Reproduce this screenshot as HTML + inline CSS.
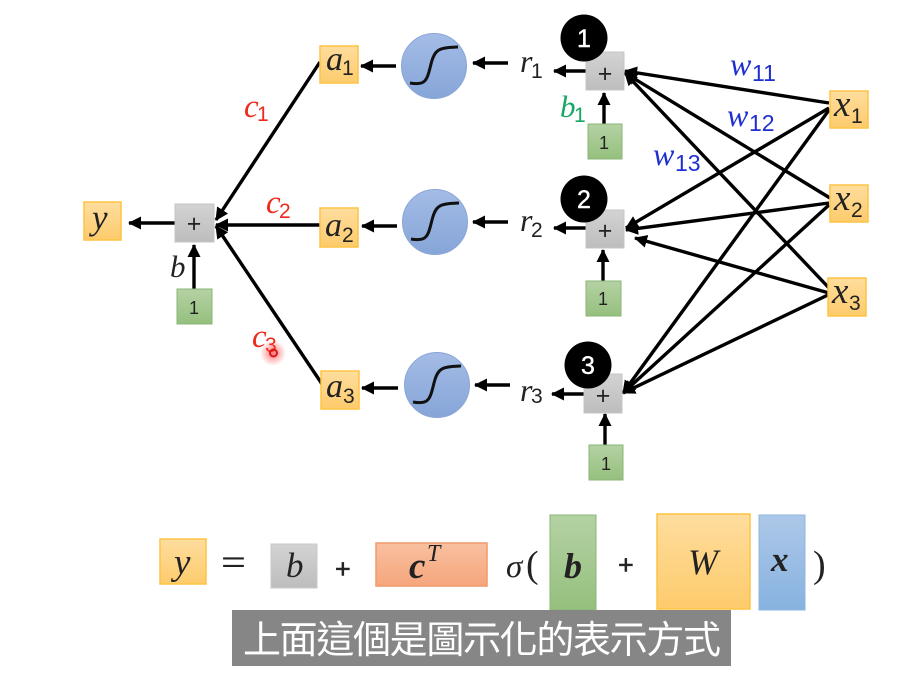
<!DOCTYPE html>
<html><head><meta charset="utf-8"><style>
html,body{margin:0;padding:0;background:#fff;width:922px;height:677px;overflow:hidden}
svg{display:block;filter:blur(.35px)}
text{font-family:"Liberation Serif",serif;font-style:italic;fill:#222}
.n,.s{font-family:"Liberation Sans","DejaVu Sans",sans-serif;font-style:normal}
.s{font-size:21px}
.w{font-size:23px}
.red{fill:#ee2a1c}.bl{fill:#1f2fd0}.gn{fill:#14a862}
.cap{font-family:"Liberation Sans","Noto Sans CJK TC",sans-serif;font-style:normal;fill:#fff}
</style></head><body>
<svg width="922" height="677" viewBox="0 0 922 677" xmlns="http://www.w3.org/2000/svg">
<defs>
<linearGradient id="o" x1="0" y1="0" x2="0" y2="1"><stop offset="0" stop-color="#fedd9e"/><stop offset="1" stop-color="#fdcb6c"/></linearGradient>
<linearGradient id="g" x1="0" y1="0" x2="0" y2="1"><stop offset="0" stop-color="#b4d2a4"/><stop offset="1" stop-color="#96c07e"/></linearGradient>
<linearGradient id="gr" x1="0" y1="0" x2="0" y2="1"><stop offset="0" stop-color="#d3d3d3"/><stop offset="1" stop-color="#bdbdbd"/></linearGradient>
<linearGradient id="b" x1="0" y1="0" x2="0" y2="1"><stop offset="0" stop-color="#adc8e8"/><stop offset="1" stop-color="#87b2e0"/></linearGradient>
<linearGradient id="c" x1="0" y1="0" x2="0" y2="1"><stop offset="0" stop-color="#a4bce6"/><stop offset="1" stop-color="#86a5d8"/></linearGradient>
<linearGradient id="p" x1="0" y1="0" x2="0" y2="1"><stop offset="0" stop-color="#f8c0a0"/><stop offset="1" stop-color="#f6a67c"/></linearGradient>
<radialGradient id="glow"><stop offset="0" stop-color="#ff3030" stop-opacity=".65"/><stop offset="1" stop-color="#ff3030" stop-opacity="0"/></radialGradient>
<marker id="a" markerUnits="userSpaceOnUse" markerWidth="13" markerHeight="13" refX="12" refY="6.5" orient="auto"><path d="M0 0L13 6.500L0 13z" fill="#000"/></marker>
<g id="sig"><circle r="32.5" fill="url(#c)" stroke="#8aa6d6" stroke-width="1"/><path d="M-24 17C-8 20 -7 14 -3 -2C1 -18 6 -18 24 -19" fill="none" stroke="#111" stroke-width="3"/></g>
</defs>

<!-- connectors -->
<g stroke="#000" stroke-width="3.400" fill="none">
<line x1="175" y1="223" x2="129" y2="223" marker-end="url(#a)"/>
<line x1="194" y1="289" x2="194" y2="245" marker-end="url(#a)"/>
<line x1="320" y1="62" x2="216" y2="220" marker-end="url(#a)"/>
<line x1="320" y1="225" x2="216" y2="225" marker-end="url(#a)"/>
<line x1="322" y1="384" x2="216" y2="226" marker-end="url(#a)"/>
<line x1="396" y1="66" x2="361" y2="66" marker-end="url(#a)"/>
<line x1="397" y1="226" x2="362" y2="226" marker-end="url(#a)"/>
<line x1="398" y1="388" x2="362" y2="388" marker-end="url(#a)"/>
<line x1="508" y1="63" x2="473" y2="63" marker-end="url(#a)"/>
<line x1="508" y1="222" x2="473" y2="222" marker-end="url(#a)"/>
<line x1="510" y1="385" x2="475" y2="385" marker-end="url(#a)"/>
<line x1="586" y1="71" x2="554" y2="71" marker-end="url(#a)"/>
<line x1="586" y1="228" x2="554" y2="228" marker-end="url(#a)"/>
<line x1="584" y1="394" x2="552" y2="394" marker-end="url(#a)"/>
<line x1="604" y1="124" x2="604" y2="93" marker-end="url(#a)"/>
<line x1="603" y1="281" x2="603" y2="250" marker-end="url(#a)"/>
<line x1="605" y1="445" x2="605" y2="414" marker-end="url(#a)"/>
<line x1="829" y1="103" x2="625" y2="71" marker-end="url(#a)"/>
<line x1="830" y1="198" x2="625" y2="73" marker-end="url(#a)"/>
<line x1="829" y1="288" x2="625" y2="73" marker-end="url(#a)"/>
<line x1="829" y1="108" x2="626" y2="228" marker-end="url(#a)"/>
<line x1="829" y1="203" x2="626" y2="230" marker-end="url(#a)"/>
<line x1="829" y1="293" x2="635" y2="238" marker-end="url(#a)"/>
<line x1="829" y1="110" x2="623" y2="393" marker-end="url(#a)"/>
<line x1="829" y1="205" x2="623" y2="393" marker-end="url(#a)"/>
<line x1="830" y1="294" x2="623" y2="393" marker-end="url(#a)"/>
</g>

<!-- boxes: diagram -->
<g fill="url(#o)" stroke="#fdc443" stroke-width="1.500">
<rect x="84" y="202" width="37" height="38"/>
<rect x="320" y="46" width="38" height="37"/>
<rect x="320" y="208" width="38" height="39"/>
<rect x="321" y="371" width="38" height="38"/>
<rect x="830" y="91" width="38" height="37"/>
<rect x="830" y="185" width="38" height="37"/>
<rect x="828" y="278" width="38" height="38"/>
</g>
<g fill="url(#gr)" stroke="#c4c4c4" stroke-width="1">
<rect x="175" y="204" width="39" height="38"/>
<rect x="586" y="52" width="38" height="38"/>
<rect x="586" y="210" width="38" height="38"/>
<rect x="584" y="374" width="38" height="39"/>
</g>
<g fill="url(#g)" stroke="#8ab575" stroke-width="1">
<rect x="177" y="289" width="35" height="35"/>
<rect x="588" y="124" width="34" height="35"/>
<rect x="586" y="281" width="35" height="35"/>
<rect x="589" y="445" width="34" height="35"/>
</g>
<use href="#sig" x="434" y="66"/>
<use href="#sig" x="435" y="222"/>
<use href="#sig" x="437" y="385"/>

<!-- numbered badges -->
<circle cx="584" cy="38" r="23.500" fill="#000"/>
<circle cx="584" cy="199" r="23.500" fill="#000"/>
<circle cx="588" cy="365" r="23.500" fill="#000"/>
<g text-anchor="middle" font-size="25" stroke="#fff" stroke-width=".4">
<text class="n" x="584" y="47" style="fill:#fff">1</text>
<text class="n" x="584" y="208" style="fill:#fff">2</text>
<text class="n" x="588" y="374" style="fill:#fff">3</text>
</g>

<!-- plus and one -->
<g text-anchor="middle">
<text class="n" x="194" y="232" font-size="25">+</text>
<text class="n" x="605" y="82" font-size="25">+</text>
<text class="n" x="605" y="239" font-size="25">+</text>
<text class="n" x="603" y="404" font-size="25">+</text>
<text class="n" x="194" y="314" font-size="18">1</text>
<text class="n" x="604" y="149" font-size="18">1</text>
<text class="n" x="603" y="305" font-size="18">1</text>
<text class="n" x="606" y="470" font-size="18">1</text>
</g>

<!-- math labels -->
<text x="92" y="229" font-size="35">y</text>
<text x="170" y="277" font-size="31">b</text>
<text x="326" y="70" font-size="34">a</text><text class="s" x="342" y="75">1</text>
<text x="325" y="236" font-size="34">a</text><text class="s" x="342" y="242">2</text>
<text x="326" y="397" font-size="34">a</text><text class="s" x="343" y="403">3</text>
<text x="520" y="72" font-size="32">r</text><text class="s" x="531" y="78">1</text>
<text x="520" y="231" font-size="32">r</text><text class="s" x="531" y="237">2</text>
<text x="520" y="401" font-size="32">r</text><text class="s" x="531" y="403">3</text>
<text x="834" y="116" font-size="37">x</text><text class="s" x="851" y="123">1</text>
<text x="834" y="210" font-size="37">x</text><text class="s" x="851" y="217">2</text>
<text x="832" y="303" font-size="37">x</text><text class="s" x="849" y="310">3</text>

<text class="red" x="244" y="117" font-size="33">c</text><text class="s red" x="257" y="121">1</text>
<text class="red" x="266" y="213" font-size="33">c</text><text class="s red" x="279" y="218">2</text>
<text class="red" x="252" y="347" font-size="33">c</text><text class="s red" x="265" y="352">3</text>
<circle cx="273" cy="353" r="13" fill="url(#glow)"/>
<circle cx="273.500" cy="353" r="3.500" fill="none" stroke="#d81818" stroke-width="2"/>

<text class="gn" x="560" y="117" font-size="31">b</text><text class="s gn" x="574" y="122">1</text>
<text class="bl" x="730" y="75" font-size="32">w</text><text class="n w bl" x="752" y="81">11</text>
<text class="bl" x="727" y="126" font-size="32">w</text><text class="n w bl" x="749" y="131">12</text>
<text class="bl" x="653" y="165" font-size="32">w</text><text class="n w bl" x="675" y="171">13</text>

<!-- formula -->
<rect x="160" y="539" width="46" height="45" fill="url(#o)" stroke="#fdc443" stroke-width="1.500"/>
<rect x="271" y="544" width="46" height="44" fill="url(#gr)" stroke="#c8c8c8"/>
<rect x="376" y="543" width="111" height="43" fill="url(#p)" stroke="#f09a6a" stroke-width="1.500"/>
<rect x="550" y="515" width="46" height="95" fill="url(#g)" stroke="#8ab575"/>
<rect x="657" y="514" width="93" height="95" fill="url(#o)" stroke="#fdc443" stroke-width="1.500"/>
<rect x="759" y="515" width="46" height="95" fill="url(#b)" stroke="#8fb4df"/>
<text x="174" y="574" font-size="37">y</text>
<text class="n" x="221" y="572" font-size="30" textLength="25" lengthAdjust="spacingAndGlyphs">=</text>
<text x="286" y="577" font-size="35">b</text>
<text class="n" x="335" y="578" font-size="27" stroke="#222" stroke-width=".5">+</text>
<text x="409" y="578" font-size="37" font-weight="700">c</text><text x="427" y="561" font-size="24">T</text>
<text x="506" y="577" font-size="33">σ</text><text x="526" y="577" font-size="38" style="font-style:normal">(</text>
<text x="564" y="578" font-size="36" font-weight="700">b</text>
<text class="n" x="618" y="574" font-size="27" stroke="#222" stroke-width=".5">+</text>
<text x="688" y="574" font-size="36">W</text>
<text x="771" y="571" font-size="35" font-weight="700">x</text>
<text x="813" y="577" font-size="38" style="font-style:normal">)</text>

<!-- caption -->
<rect x="232" y="610" width="499" height="56" fill="#868686"/>
<text class="cap" x="243" y="653" font-size="38" textLength="478" lengthAdjust="spacing">上面這個是圖示化的表示方式</text>
</svg>
</body></html>
